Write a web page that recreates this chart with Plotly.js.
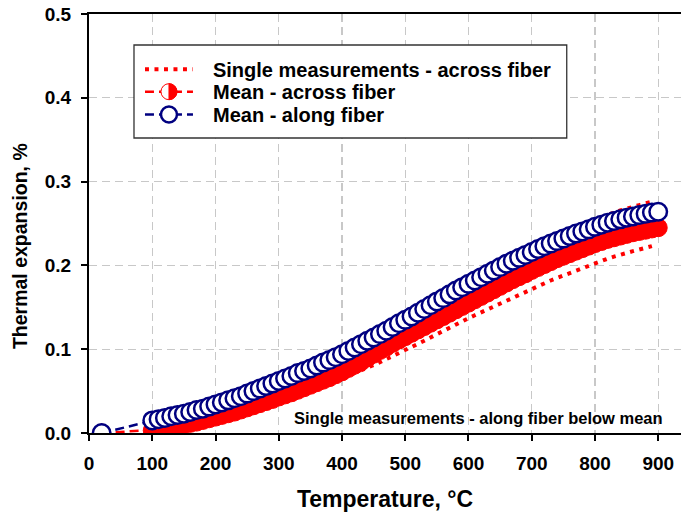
<!DOCTYPE html>
<html>
<head>
<meta charset="utf-8">
<script src="https://cdn.plot.ly/plotly-3.0.1.min.js"></script>
<style>html,body{margin:0;padding:0;background:#fff;}#chart{width:681px;height:515px;}</style>
</head>
<body>
<div id="chart"></div>
<script>
// Temperature (°C) for the mean curves
const temperature = [20,
 100,110,120,130,140,150,160,170,180,190,
 200,210,220,230,240,250,260,270,280,290,
 300,310,320,330,340,350,360,370,380,390,
 400,410,420,430,440,450,460,470,480,490,
 500,510,520,530,540,550,560,570,580,590,
 600,610,620,630,640,650,660,670,680,690,
 700,710,720,730,740,750,760,770,780,790,
 800,810,820,830,840,850,860,870,880,890,900];

// Mean - along fiber (%)
const meanAlong = [0.000,
 0.015,0.0165,0.018,0.020,0.0215,0.023,0.025,0.0275,0.029,0.0315,
 0.034,0.0365,0.039,0.0415,0.044,0.047,0.050,0.053,0.056,0.059,
 0.062,0.065,0.068,0.0715,0.074,0.077,0.0805,0.084,0.087,0.0905,
 0.094,0.098,0.102,0.106,0.110,0.114,0.118,0.122,0.1265,0.131,
 0.135,0.139,0.1435,0.148,0.1525,0.157,0.161,0.1655,0.170,0.174,
 0.178,0.182,0.186,0.190,0.194,0.198,0.202,0.2055,0.209,0.2125,
 0.216,0.2195,0.223,0.226,0.229,0.232,0.235,0.238,0.2405,0.243,
 0.246,0.2485,0.251,0.253,0.255,0.257,0.2585,0.260,0.2615,0.263,0.264];

// Mean - across fiber (%)
const meanAcross = [0.000,
 0.003,0.004,0.0055,0.007,0.0085,0.010,0.0115,0.013,0.015,0.017,
 0.019,0.021,0.023,0.025,0.0275,0.030,0.0325,0.035,0.0375,0.040,
 0.043,0.0455,0.048,0.051,0.054,0.057,0.060,0.063,0.066,0.0695,
 0.073,0.077,0.081,0.085,0.0895,0.094,0.0985,0.1025,0.107,0.111,
 0.115,0.119,0.123,0.127,0.131,0.135,0.139,0.143,0.147,0.151,
 0.155,0.159,0.163,0.167,0.171,0.175,0.179,0.183,0.1865,0.190,
 0.194,0.1975,0.201,0.2045,0.208,0.211,0.214,0.217,0.220,0.223,
 0.226,0.2285,0.231,0.233,0.235,0.237,0.239,0.2405,0.242,0.2435,0.245];

// Temperature (°C) for single measurements
const tempSingle = [
 100,110,120,130,140,150,160,170,180,190,
 200,210,220,230,240,250,260,270,280,290,
 300,310,320,330,340,350,360,370,380,390,
 400,410,420,430,440,450,460,470,480,490,
 500,510,520,530,540,550,560,570,580,590,
 600,610,620,630,640,650,660,670,680,690,
 700,710,720,730,740,750,760,770,780,790,
 800,810,820,830,840,850,860,870,880,890];

// Single measurement across fiber, lower curve (%)
const singleAcrossLow = [
 0.000,0.001,0.002,0.003,0.0045,0.006,0.0075,0.009,0.0105,0.012,
 0.014,0.016,0.018,0.020,0.0225,0.025,0.0275,0.030,0.032,0.0345,
 0.037,0.0395,0.042,0.0445,0.047,0.050,0.053,0.056,0.059,0.062,
 0.065,0.068,0.071,0.0745,0.078,0.081,0.0845,0.088,0.0915,0.095,
 0.099,0.1025,0.106,0.110,0.114,0.118,0.122,0.1255,0.1295,0.133,
 0.137,0.1405,0.144,0.148,0.1515,0.155,0.1585,0.162,0.1655,0.169,
 0.172,0.1755,0.1785,0.182,0.185,0.188,0.191,0.194,0.197,0.200,
 0.203,0.2055,0.208,0.2105,0.213,0.215,0.217,0.219,0.221,0.223];

// Single measurement across fiber, upper curve (%)
const singleAcrossHigh = [
 0.014,0.016,0.018,0.020,0.022,0.024,0.0265,0.029,0.031,0.0335,
 0.036,0.0385,0.041,0.044,0.047,0.050,0.053,0.056,0.059,0.062,
 0.065,0.068,0.071,0.0745,0.078,0.081,0.0845,0.088,0.0915,0.095,
 0.099,0.103,0.107,0.111,0.115,0.119,0.123,0.1275,0.132,0.1365,
 0.141,0.1455,0.150,0.1545,0.1585,0.163,0.167,0.171,0.1755,0.1795,
 0.184,0.188,0.192,0.196,0.200,0.204,0.208,0.2115,0.2155,0.219,
 0.223,0.2265,0.230,0.2335,0.237,0.240,0.243,0.246,0.249,0.252,
 0.255,0.258,0.2605,0.263,0.2655,0.268,0.270,0.272,0.274,0.276];

const xTicks = [0,100,200,300,400,500,600,700,800,900];
const xTickText = ['0','100','200','300','400','500','600','700','800','900'];
const yTicks = [0,0.1,0.2,0.3,0.4,0.5];
const yTickText = ['0.0','0.1','0.2','0.3','0.4','0.5'];

const names = ['Single measurements - across fiber','Mean - across fiber','Mean - along fiber'];
const note = 'Single measurements - along fiber below mean';
const xTitle = 'Temperature, °C';
const yTitle = 'Thermal expansion, %';

const RED = '#ff0000', NAVY = '#000080';
const FONT = 'Liberation Sans, Arial, Helvetica, sans-serif';
const pad = '\u2002\u2005';

const traces = [
  {x: tempSingle, y: singleAcrossHigh, mode:'lines', showlegend:false,
   line:{color:RED, width:4, dash:'4px,5.5px'}, hoverinfo:'skip'},
  {x: tempSingle, y: singleAcrossLow, mode:'lines', name: pad+names[0], legend:'legend',
   line:{color:RED, width:4, dash:'4px,5.5px'}},
  {x: temperature, y: meanAcross, mode:'lines+markers', name: pad+names[1], legend:'legend2',
   line:{color:RED, width:2.5, dash:'9px,5px'},
   marker:{symbol:'circle', size:18, color:RED, line:{color:RED, width:1}}},
  {x: temperature, y: meanAlong, mode:'lines+markers', name: pad+names[2], legend:'legend3',
   line:{color:NAVY, width:2.5, dash:'9px,5px'},
   marker:{symbol:'circle', size:17.5, color:'#ffffff', line:{color:NAVY, width:2.5}}}
];

const legendBase = {xanchor:'left', yanchor:'middle', x:0.0861, bgcolor:'rgba(0,0,0,0)',
  borderwidth:0, itemwidth:48, font:{family:FONT, size:20, weight:700, color:'#000'}};

const layout = {
  width:681, height:515,
  margin:{l:89, r:0, t:14, b:82, pad:0},
  paper_bgcolor:'#ffffff', plot_bgcolor:'#ffffff',
  font:{family:FONT, color:'#000'},
  showlegend:true,
  legend: Object.assign({}, legendBase, {y:0.8680}),
  legend2: Object.assign({}, legendBase, {y:0.8146}),
  legend3: Object.assign({}, legendBase, {y:0.7600}),
  xaxis:{range:[0,936], tickmode:'array', tickvals:xTicks, ticktext:xTickText,
    ticks:'outside', ticklen:6, tickwidth:2, tickcolor:'#000',
    showline:true, linewidth:2, linecolor:'#000', mirror:true,
    showgrid:true, gridcolor:'#c8c8c8', gridwidth:1.2, griddash:'8px,5px',
    zeroline:false, ticklabelstandoff:6,
    tickfont:{family:FONT, size:19, weight:700, color:'#000'},
    title:{text:xTitle, standoff:18, font:{family:FONT, size:23, weight:700, color:'#000'}}},
  yaxis:{range:[0,0.5], tickmode:'array', tickvals:yTicks, ticktext:yTickText,
    ticks:'outside', ticklen:6, tickwidth:2, tickcolor:'#000',
    showline:true, linewidth:2, linecolor:'#000', mirror:false,
    showgrid:true, gridcolor:'#c8c8c8', gridwidth:1.2, griddash:'8px,5px',
    zeroline:false, ticklabelstandoff:6,
    tickfont:{family:FONT, size:19, weight:700, color:'#000'}},
  shapes:[
    {type:'rect', xref:'paper', yref:'paper', x0:0.076, x1:0.807, y0:0.704, y1:0.926,
     layer:'above', fillcolor:'#ffffff', line:{color:'#333333', width:1.3}}
  ],
  annotations:[
    {text:note, xref:'x', yref:'y', x:911, y:0.018, xanchor:'right', yanchor:'middle',
     showarrow:false, font:{family:FONT, size:16.5, weight:700, color:'#000'}},
    {text:yTitle, xref:'paper', yref:'paper', x:-0.1166, y:0.446, textangle:-90,
     xanchor:'center', yanchor:'middle', showarrow:false,
     font:{family:FONT, size:19.5, weight:700, color:'#000'}}
  ]
};

Plotly.newPlot('chart', traces, layout, {staticPlot:true, displayModeBar:false}).then(function(gd){
  // legend symbol for "Mean - across fiber": half-filled circle (left white, right red)
  const p = gd.querySelector('.legend2 .legendpoints path.scatterpts');
  if (p) {
    const bb = p.getBBox();
    const r = bb.width/2, cx = bb.x + r, cy = bb.y + bb.height/2;
    p.style.fill = '#ffffff';
    const half = document.createElementNS('http://www.w3.org/2000/svg','path');
    half.setAttribute('d', 'M'+cx+','+(cy-r)+'A'+r+','+r+' 0 0,1 '+cx+','+(cy+r)+'Z');
    const tr = p.getAttribute('transform'); if (tr) half.setAttribute('transform', tr);
    half.style.fill = RED; half.style.stroke = RED; half.style.strokeWidth = '1px';
    p.parentNode.appendChild(half);
  }
});
</script>
</body>
</html>
